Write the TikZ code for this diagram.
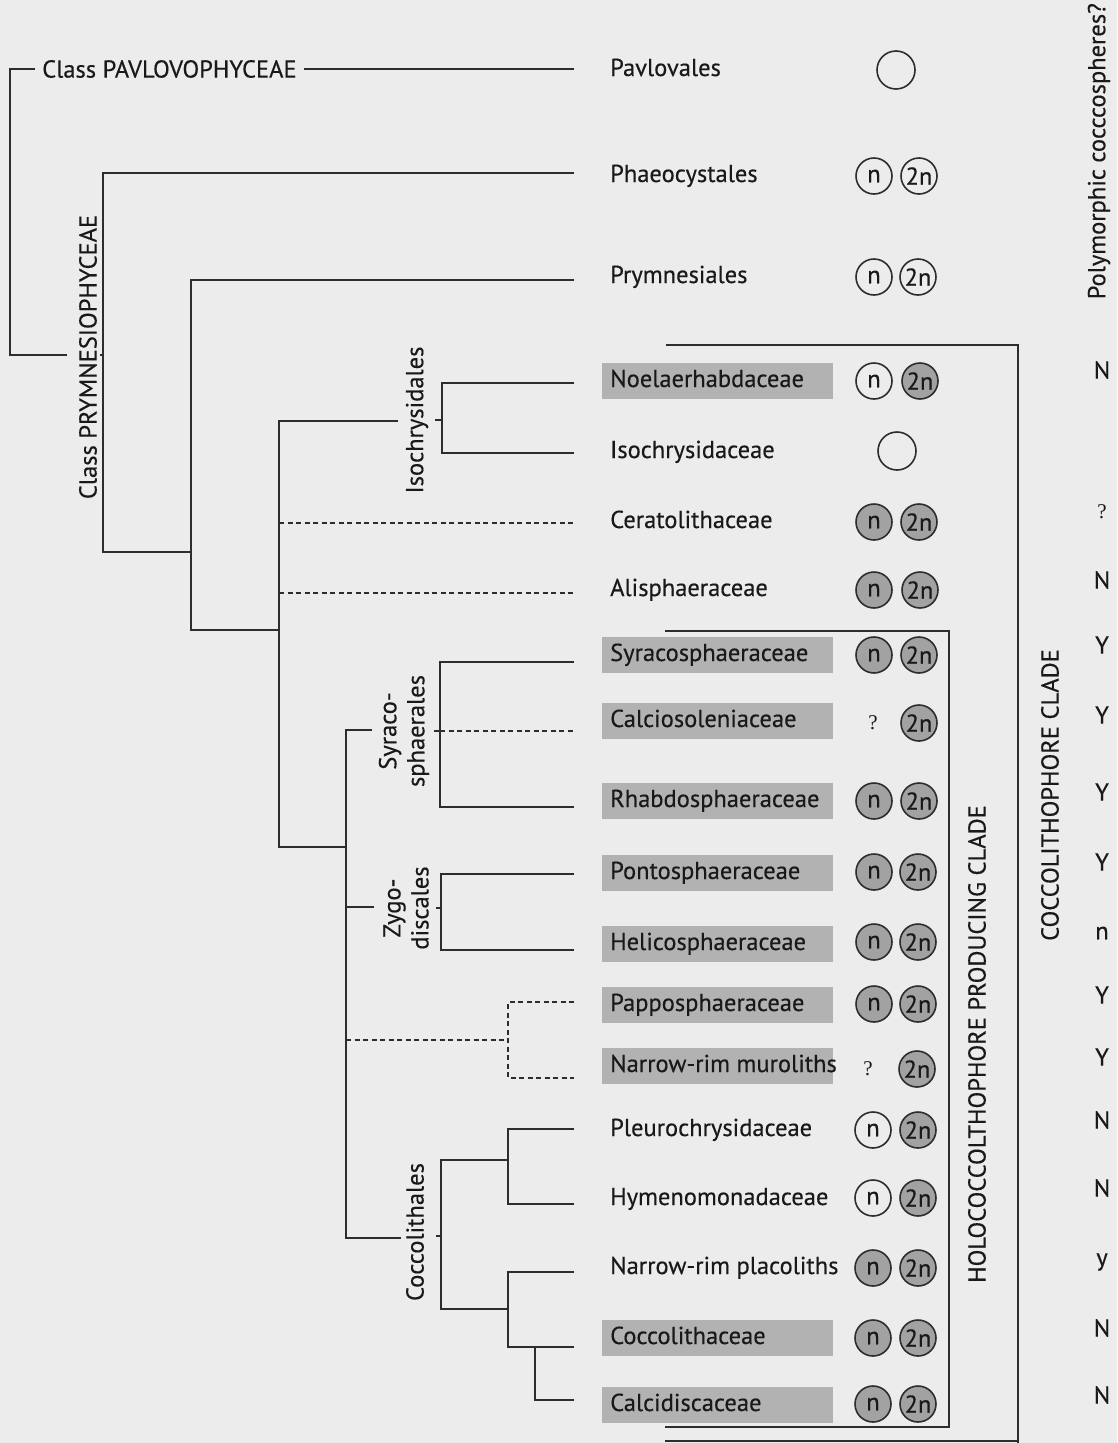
\documentclass[tikz,border=0pt]{standalone}
\usepackage{fontspec}
\setmainfont{PT Sans}[FakeBold=0.35]
\newfontfamily\qfont{Liberation Serif}
\definecolor{bg}{RGB}{236,236,236}
\definecolor{ln}{RGB}{45,45,45}
\definecolor{tx}{RGB}{25,25,25}
\definecolor{boxg}{RGB}{178,178,178}
\definecolor{circg}{RGB}{162,162,162}
\newcommand{\fs}{\fontsize{24.5}{27}\selectfont}
\newcommand{\lb}[1]{\makebox[215pt][l]{#1}}
\tikzset{
  br/.style={draw=ln, line width=1.9pt},
  dsh/.style={draw=ln, line width=1.7pt, dash pattern=on 5pt off 3.5pt},
  lab/.style={anchor=west, inner xsep=8pt, inner ysep=7pt,
              text height=17pt, text depth=5pt, font=\fs, text=tx},
  grey/.style={lab, fill=boxg},
  cn/.style={circle, draw=ln, line width=1.6pt, minimum size=36pt, inner sep=0pt, font=\fs, text=tx},
  cf/.style={cn, fill=circg},
  yn/.style={font=\fs, text=tx, inner sep=0pt},
  qm/.style={font=\qfont\fontsize{21}{24}\selectfont, text=tx, inner sep=0pt},
  rlab/.style={rotate=90, font=\fs, text=tx, inner sep=0pt},
  rlab2/.style={rotate=90, font=\fs, text=tx, inner sep=0pt, align=center},
  clade/.style={draw=ln, line width=1.7pt}
}
\begin{document}
\begin{tikzpicture}[x=1pt,y=-1pt]
\useasboundingbox (0,0) rectangle (1117,1443);
\fill[bg] (0,0) rectangle (1117,1443);

% leaf ends
\coordinate (e1) at (574,69);
\coordinate (e2) at (574,173);
\coordinate (e3) at (574,280);
\coordinate (e4) at (574,383);
\coordinate (e5) at (574,453);
\coordinate (e6) at (574,523);
\coordinate (e7) at (574,593);
\coordinate (e8) at (574,662);
\coordinate (e9) at (574,731);
\coordinate (e10) at (574,807);
\coordinate (e11) at (574,874);
\coordinate (e12) at (574,950);
\coordinate (e13) at (574,1002);
\coordinate (e14) at (574,1078);
\coordinate (e15) at (574,1129);
\coordinate (e16) at (574,1204);
\coordinate (e17) at (574,1272);
\coordinate (e18) at (574,1347);
\coordinate (e19) at (574,1400);

% group labels
\node[anchor=west, font=\fs, text=tx, inner xsep=7pt, inner ysep=0pt] (pav) at (35,69) {Class PAVLOVOPHYCEAE};
\node[rlab] (prym) at (88,357) {Class PRYMNESIOPHYCEAE};
\node[rlab] (isol) at (417,420) {Isochrysidales};
\node[rlab2] (syrl) at (404,731) {Syraco-\\[1pt]sphaerales};
\node[rlab2] (zygl) at (406,908) {Zygo-\\[1pt]discales};
\node[rlab] (cocl) at (415,1232) {Coccolithales};

% tree
\draw[br] (pav.west) -| (10,355) -- (67,355);
\draw[br] (pav.east) -- (e1);
\draw[br] (100,355) -- (103,355);
\draw[br] (e2) -| (103,552) -- (191,552);
\draw[br] (e3) -| (191,630) -- (279,630);
\draw[br] (398,421) -| (279,847) -- (346,847);
\draw[br] (e4) -| (442,453) -- (e5);
\draw[br] (435,420) -- (442,420);
\draw[dsh] (279,523) -- (e6);
\draw[dsh] (279,593) -- (e7);
\draw[br] (e8) -| (440,807) -- (e10);
\draw[br] (434,731) -- (440,731);
\draw[dsh] (440,731) -- (e9);
\draw[br] (372,730) -| (346,1238) -- (401,1238);
\draw[br] (346,907) -- (374,907);
\draw[br] (e11) -| (441,950) -- (e12);
\draw[br] (436,908) -- (441,908);
\draw[dsh] (346,1040) -- (508,1040);
\draw[dsh] (e13) -| (508,1078) -- (e14);
\draw[br] (436,1236) -- (441,1236);
\draw[br] (508,1160) -| (441,1309) -- (508,1309);
\draw[br] (e15) -| (508,1204) -- (e16);
\draw[br] (e17) -| (508,1347) -- (e18);
\draw[br] (535,1347) |- (e19);

% leaf labels
\node[lab]  (t1)  at (602,70)   {\lb{Pavlovales}};
\node[lab]  (t2)  at (602,176)  {\lb{Phaeocystales}};
\node[lab]  (t3)  at (602,277)  {\lb{Prymnesiales}};
\node[grey] (t4)  at (602,381)  {\lb{Noelaerhabdaceae}};
\node[lab]  (t5)  at (602,452)  {\lb{Isochrysidaceae}};
\node[lab]  (t6)  at (602,522)  {\lb{Ceratolithaceae}};
\node[lab]  (t7)  at (602,590)  {\lb{Alisphaeraceae}};
\node[grey] (t8)  at (602,655)  {\lb{Syracosphaeraceae}};
\node[grey] (t9)  at (602,721)  {\lb{Calciosoleniaceae}};
\node[grey] (t10) at (602,801)  {\lb{Rhabdosphaeraceae}};
\node[grey] (t11) at (602,873)  {\lb{Pontosphaeraceae}};
\node[grey] (t12) at (602,944)  {\lb{Helicosphaeraceae}};
\node[grey] (t13) at (602,1005) {\lb{Papposphaeraceae}};
\node[grey] (t14) at (602,1066) {\lb{Narrow-rim muroliths}};
\node[lab]  (t15) at (602,1130) {\lb{Pleurochrysidaceae}};
\node[lab]  (t16) at (602,1199) {\lb{Hymenomonadaceae}};
\node[lab]  (t17) at (602,1268) {\lb{Narrow-rim placoliths}};
\node[grey] (t18) at (602,1338) {\lb{Coccolithaceae}};
\node[grey] (t19) at (602,1405) {\lb{Calcidiscaceae}};

% life-cycle circles
\node[cn, minimum size=38pt] (c1) at (896,70) {};
\node[cn] (n2) at (874,176) {n};  \node[cn] (d2) at (919,176) {2n};
\node[cn] (n3) at (874,277) {n};  \node[cn] (d3) at (918,277) {2n};
\node[cn] (n4) at (874,381) {n};  \node[cf] (d4) at (920,381) {2n};
\node[cn, minimum size=38pt] (c5) at (897,451) {};
\node[cf] (n6) at (874,522) {n};  \node[cf] (d6) at (919,522) {2n};
\node[cf] (n7) at (874,590) {n};  \node[cf] (d7) at (920,590) {2n};
\node[cf] (n8) at (874,655) {n};  \node[cf] (d8) at (919,655) {2n};
\node[qm] (q9) at (873,723) {?};   \node[cf] (d9) at (919,723) {2n};
\node[cf] (n10) at (874,801) {n}; \node[cf] (d10) at (919,801) {2n};
\node[cf] (n11) at (874,872) {n}; \node[cf] (d11) at (918,872) {2n};
\node[cf] (n12) at (874,942) {n}; \node[cf] (d12) at (918,942) {2n};
\node[cf] (n13) at (874,1004) {n}; \node[cf] (d13) at (918,1004) {2n};
\node[qm] (q14) at (868,1069) {?}; \node[cf] (d14) at (917,1069) {2n};
\node[cn] (n15) at (873,1130) {n}; \node[cf] (d15) at (918,1130) {2n};
\node[cn] (n16) at (873,1198) {n}; \node[cf] (d16) at (918,1198) {2n};
\node[cf] (n17) at (873,1268) {n}; \node[cf] (d17) at (918,1268) {2n};
\node[cf] (n18) at (873,1338) {n}; \node[cf] (d18) at (918,1338) {2n};
\node[cf] (n19) at (873,1404) {n}; \node[cf] (d19) at (918,1404) {2n};

% clade boxes
\draw[clade] (666,345) -- (1018,345) -- (1018,1443);
\draw[clade] (665,1441) -- (1018,1441);
\draw[clade] (665,631) -- (949,631) -- (949,1427) -- (665,1427);
\node[rlab] (holo) at (977,1044) {HOLOCOCCOLTHOPHORE PRODUCING CLADE};
\node[rlab] (cocc) at (1050,795) {COCCOLITHOPHORE CLADE};

% polymorphic column
\node[rlab, anchor=east] (poly) at (1099,3) {Polymorphic cocccospheres?};
\node[yn] (y4)  at (1102,370)  {N};
\node[qm] (y6)  at (1102,512)  {?};
\node[yn] (y7)  at (1102,580)  {N};
\node[yn] (y8)  at (1102,645)  {Y};
\node[yn] (y9)  at (1102,715)  {Y};
\node[yn] (y10) at (1102,792)  {Y};
\node[yn] (y11) at (1102,862)  {Y};
\node[yn] (y12) at (1102,933)  {n};
\node[yn] (y13) at (1102,995)  {Y};
\node[yn] (y14) at (1102,1057) {Y};
\node[yn] (y15) at (1102,1120) {N};
\node[yn] (y16) at (1102,1188) {N};
\node[yn] (y17) at (1102,1262) {y};
\node[yn] (y18) at (1102,1328) {N};
\node[yn] (y19) at (1102,1395) {N};
\end{tikzpicture}
\end{document}
